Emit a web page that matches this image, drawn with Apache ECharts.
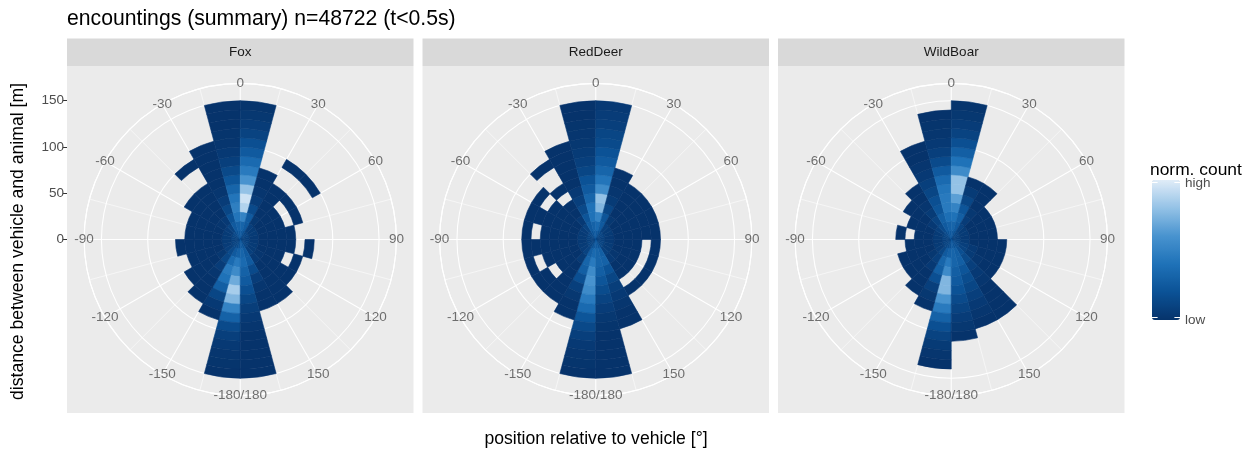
<!DOCTYPE html>
<html>
<head>
<meta charset="utf-8">
<script src="https://cdn.jsdelivr.net/npm/echarts@6/dist/echarts.min.js"></script>
<style>
  html, body { margin: 0; padding: 0; background: #ffffff; }
  #chart { width: 1258px; height: 449px; }
</style>
</head>
<body>
<div id="chart"></div>
<script>
// ---- binning of the polar histogram ----
const angleBinStart = -180;   // first angular bin starts here [deg]
const angleBinWidth = 15;     // width of an angular bin [deg]
const ringWidth = 10;         // width of a distance ring [m]

const _ = null;   // no observations in this cell

// normalised counts: one row per angular bin (-180..-165, -165..-150, ...),
// one entry per distance ring (0-10 m, 10-20 m, ...)
const foxCounts = [
  [.20,.30,.45,.55,.70,.85,.75,.50,.30,.15,.08,.04,.02,.01,0],
  [.15,.25,.35,.45,.40,.28,.12,.04,0],
  [.12,.15,.12,.06,.02,0,0,0],
  [.10,.08,.03,0,0,0,0],
  [.10,.06,0,0,0,0],
  [.08,.05,0,0,0,0,0],
  [.10,.05,0,0,0,0],
  [.10,.05,0,0,0,0],
  [.12,.06,.02,0,0,0,0],
  [.15,.10,.04,0,0,0,0,_,_,0],
  [.20,.25,.20,.12,.06,.02,0,0,0,0,0],
  [.25,.30,.42,.48,.42,.32,.22,.14,.08,.04,.02,.01,0,0,0],
  [.25,.32,.50,.88,.95,.80,.60,.45,.35,.25,.18,.10,.06,.03,.01],
  [.20,.25,.25,.15,.06,.02,0,0],
  [.12,.08,.03,0,0,0,0,_,_,0],
  [.10,.05,0,0,0,_,0,_,_,0],
  [.10,.05,0,0,0,_,0],
  [.08,.04,0,0,0,0],
  [.08,.04,0,0,0,0,_,0],
  [.10,.05,0,0,0,_,0],
  [.10,.05,.02,0,0,0,0],
  [.12,.08,.04,0,0,0,0,0],
  [.20,.25,.25,.15,.06,.02,0,0],
  [.25,.32,.35,.30,.25,.18,.12,.07,.04,.02,0,0,0,0,0]
];

const redDeerCounts = [
  [.25,.35,.45,.55,.60,.55,.45,.35,.22,.14,.08,.04,.02,.01,0],
  [.20,.28,.32,.28,.18,.08,.03,0,0],
  [.12,.10,.05,0,0,0,0,0],
  [.10,.06,0,0,0,_,0,0],
  [.10,.05,0,0,0,0,_,0],
  [.08,.04,0,0,0,0,0,0],
  [.10,.05,0,0,0,0,_,0],
  [.10,.05,0,0,0,0,0,0],
  [.12,.06,0,0,0,0,_,0],
  [.15,.10,.04,0,0,_,0,_,_,0],
  [.20,.25,.22,.14,.08,.04,0,0,0,0,0],
  [.25,.30,.40,.40,.32,.25,.20,.12,.08,.05,.03,.02,.01,0,0],
  [.25,.35,.50,.75,.80,.55,.42,.32,.25,.20,.15,.12,.08,.06,.04],
  [.20,.25,.22,.12,.05,.02,0,0],
  [.12,.08,.03,0,0,0,0],
  [.10,.05,0,0,0,0,0],
  [.10,.05,0,0,0,0,0],
  [.08,.04,0,0,0,0,0],
  [.08,.04,0,0,0,_,0],
  [.10,.05,0,0,0,_,0],
  [.10,.05,.02,0,0,_,0],
  [.12,.08,.04,0,0,_,0],
  [.20,.28,.30,.20,.12,.07,.04,.02,0,0],
  [.25,.32,.32,.28,.22,.16,.10,.06,.03,.01,0,0,0,0,0]
];

const wildBoarCounts = [
  [.20,.30,.45,.55,.75,.75,.60,.45,.30,.18,.10,.05,.02,0],
  [.15,.25,.32,.28,.18,.08,.03,0],
  [.12,.12,.08,.04,0,0,0],
  [.10,.06,.03,0,0,0],
  [.10,.05,0,0,0,0],
  [.08,.04,0,0,0],
  [.10,.05,0,0,_,0],
  [.10,.05,0,0,0],
  [.12,.08,.04,0,0,0],
  [.15,.15,.10,.05,.02,0,0],
  [.20,.25,.28,.22,.18,.12,.08,.04,.02,0,0],
  [.25,.30,.38,.45,.45,.42,.35,.25,.15,.08,.04,.02,.01,0],
  [.25,.32,.40,.50,.65,.80,.80,.55,.40,.28,.18,.10,.06,.03,.01],
  [.20,.25,.28,.22,.12,.05,0],
  [.12,.10,.06,.03,0,0,0],
  [.10,.05,0,0,0],
  [.10,.05,0,0,0],
  [.08,.04,0,0,0],
  [.10,.05,0,0,0,0],
  [.12,.08,.04,0,0,0],
  [.15,.10,.05,.02,0,0],
  [.18,.18,.14,.08,.04,.02,0,0,0,0],
  [.20,.28,.28,.22,.16,.12,.08,.04,.02,0],
  [.25,.32,.32,.28,.25,.20,.15,.10,.06,.03,0]
];

const panelNames = ['Fox', 'RedDeer', 'WildBoar'];
const panelCounts = [foxCounts, redDeerCounts, wildBoarCounts];

// axis breaks and their labels
const distanceBreaks = [0, 50, 100, 150];
const angleBreaks = [-150, -120, -90, -60, -30, 0, 30, 60, 90, 120, 150, 180];
const angleTickLabels = ['-150', '-120', '-90', '-60', '-30', '0', '30', '60', '90', '120', '150', '-180/180'];

const titleText = 'encountings (summary) n=48722 (t<0.5s)';
const xTitle = 'position relative to vehicle [°]';
const yTitle = 'distance between vehicle and animal [m]';
const legendTitle = 'norm. count';
const legendLabels = ['high', 'low'];

// fill colours from low to high normalised count
const fillRamp = ['#06336b', '#0b5296', '#1f72b8', '#4893cf', '#94c2e6', '#e0ecf8'];

// ---- layout ----
const panelLeft = [67, 422.5, 778];
const panelW = 346.5;
const panelTop = 66;
const panelH = 347;
const stripTop = 38.5;
const cy = panelTop + panelH / 2;
const outerR = 0.45 * panelH;          // outer grid circle
const dataMax = 150;                    // distance mapped to 0.4 of the panel
const radiusMax = dataMax * 0.45 / 0.4; // axis extent at the outer circle

const FONT = '"Liberation Sans", Arial, sans-serif';

function cellsOf(counts) {
  const out = [];
  counts.forEach(function (row, i) {
    row.forEach(function (v, j) {
      if (v === null) return;
      out.push([j * ringWidth, angleBinStart + i * angleBinWidth, v]);
    });
  });
  return out;
}

function renderCell(params, api) {
  const r0 = api.value(0), a0 = api.value(1);
  const cs = params.coordSys;
  const pIn = api.coord([r0, a0]);
  const pA = api.coord([r0 + ringWidth, a0]);
  const pB = api.coord([r0 + ringWidth, a0 + angleBinWidth]);
  const rIn = Math.hypot(pIn[0] - cs.cx, pIn[1] - cs.cy);
  const rOut = Math.hypot(pA[0] - cs.cx, pA[1] - cs.cy);
  const start = Math.atan2(pA[1] - cs.cy, pA[0] - cs.cx);
  let end = Math.atan2(pB[1] - cs.cy, pB[0] - cs.cx);
  const TAU = Math.PI * 2;
  const d = ((end - start) % TAU + TAU) % TAU;
  end = start + d;
  const color = api.visual('color');
  return {
    type: 'sector',
    shape: { cx: cs.cx, cy: cs.cy, r0: rIn, r: rOut, startAngle: start, endAngle: end, clockwise: true },
    style: { fill: color, stroke: color, lineWidth: 0.6 }
  };
}

const polar = [], angleAxis = [], radiusAxis = [], series = [], graphics = [];

panelNames.forEach(function (name, k) {
  const cx = panelLeft[k] + panelW / 2;
  polar.push({ center: [cx, cy], radius: outerR });
  angleAxis.push({
    polarIndex: k, type: 'value', min: -180, max: 180, interval: 30,
    startAngle: 270, clockwise: true,
    axisLine: { show: true, lineStyle: { color: '#ffffff', width: 1.1 } },
    axisTick: { show: false }, axisLabel: { show: false },
    splitLine: { show: true, lineStyle: { color: '#ffffff', width: 1.1 } },
    minorTick: { show: false, splitNumber: 2 },
    minorSplitLine: { show: true, lineStyle: { color: '#ffffff', width: 0.55 } },
    z: 1
  });
  radiusAxis.push({
    polarIndex: k, type: 'value', min: 0, max: radiusMax, interval: 50,
    axisLine: { show: false }, axisTick: { show: false }, axisLabel: { show: false },
    splitLine: { show: true, lineStyle: { color: '#ffffff', width: 1.1 } },
    z: 1
  });

  // panel background and strip
  graphics.push({ type: 'rect', z: -10, shape: { x: panelLeft[k], y: panelTop, width: panelW, height: panelH }, style: { fill: '#EBEBEB' } });
  graphics.push({ type: 'rect', z: -10, shape: { x: panelLeft[k], y: stripTop, width: panelW, height: panelTop - stripTop }, style: { fill: '#D9D9D9' } });
  graphics.push({ type: 'text', z: 5, x: cx, y: (stripTop + panelTop) / 2, style: { text: name, font: '13.5px ' + FONT, fill: '#1A1A1A', align: 'center', verticalAlign: 'middle' } });
});

panelNames.forEach(function (name, k) {
  series.push({
    type: 'custom', name: name, coordinateSystem: 'polar', polarIndex: k,
    renderItem: renderCell, data: cellsOf(panelCounts[k]), z: 2, silent: true
  });
});

panelNames.forEach(function (name, k) {
  series.push({
    type: 'scatter', coordinateSystem: 'polar', polarIndex: k, silent: true,
    symbolSize: 1, itemStyle: { color: 'transparent' }, z: 5,
    data: angleBreaks.map(function (a) { return [radiusMax, a]; }),
    label: {
      show: true, position: 'inside', color: '#4D4D4D', fontSize: 13.5, fontFamily: FONT,
      formatter: function (p) { return angleTickLabels[p.dataIndex]; }
    }
  });
});

// titles and legend text
graphics.push({ type: 'text', x: 67, y: 19, style: { text: titleText, font: '21.2px ' + FONT, fill: '#000000', verticalAlign: 'middle' } });
graphics.push({ type: 'text', x: 596, y: 439, style: { text: xTitle, font: '17.6px ' + FONT, fill: '#000000', align: 'center', verticalAlign: 'middle' } });
graphics.push({ type: 'text', x: 18, y: cy + 2, rotation: Math.PI / 2, style: { text: yTitle, font: '17.6px ' + FONT, fill: '#000000', align: 'center', verticalAlign: 'middle' } });
graphics.push({ type: 'text', x: 1150, y: 170, style: { text: legendTitle, font: '17.4px ' + FONT, fill: '#000000', verticalAlign: 'middle' } });

const barLeft = 1152, barTop = 180, barW = 28, barH = 140;
graphics.push({ type: 'text', x: barLeft + barW + 5, y: barTop + 3, style: { text: legendLabels[0], font: '13.5px ' + FONT, fill: '#4D4D4D', verticalAlign: 'middle' } });
graphics.push({ type: 'text', x: barLeft + barW + 5, y: barTop + barH, style: { text: legendLabels[1], font: '13.5px ' + FONT, fill: '#4D4D4D', verticalAlign: 'middle' } });
[barTop + 2.5, barTop + barH - 2.5].forEach(function (ty) {
  graphics.push({ type: 'line', z: 10, shape: { x1: barLeft, y1: ty, x2: barLeft + 5.6, y2: ty }, style: { stroke: '#ffffff', lineWidth: 1 } });
  graphics.push({ type: 'line', z: 10, shape: { x1: barLeft + barW - 5.6, y1: ty, x2: barLeft + barW, y2: ty }, style: { stroke: '#ffffff', lineWidth: 1 } });
});

const chart = echarts.init(document.getElementById('chart'), null, { renderer: 'canvas' });
chart.setOption({
  animation: false,
  backgroundColor: '#ffffff',
  polar: polar,
  angleAxis: angleAxis,
  radiusAxis: radiusAxis,
  grid: [{ left: panelLeft[0], top: cy - 0.4 * panelH, width: 10, height: 0.4 * panelH, show: false }],
  xAxis: [{ type: 'value', show: false, gridIndex: 0 }],
  yAxis: [{
    type: 'value', gridIndex: 0, min: 0, max: dataMax, interval: 50,
    axisLine: { show: false },
    axisTick: { show: true, length: 4, lineStyle: { color: '#333333', width: 1 } },
    axisLabel: { color: '#4D4D4D', fontSize: 13.5, fontFamily: FONT, margin: 3,
      formatter: function (v) { return distanceBreaks.indexOf(v) >= 0 ? String(v) : ''; } },
    splitLine: { show: false }
  }],
  visualMap: {
    type: 'continuous', min: 0, max: 1, dimension: 2, seriesIndex: [0, 1, 2],
    orient: 'vertical', left: barLeft, top: barTop, itemWidth: barW, itemHeight: barH,
    padding: 0, calculable: false, showLabel: false, text: null,
    inRange: { color: fillRamp }
  },
  series: series,
  graphic: { elements: graphics }
});
</script>
</body>
</html>
